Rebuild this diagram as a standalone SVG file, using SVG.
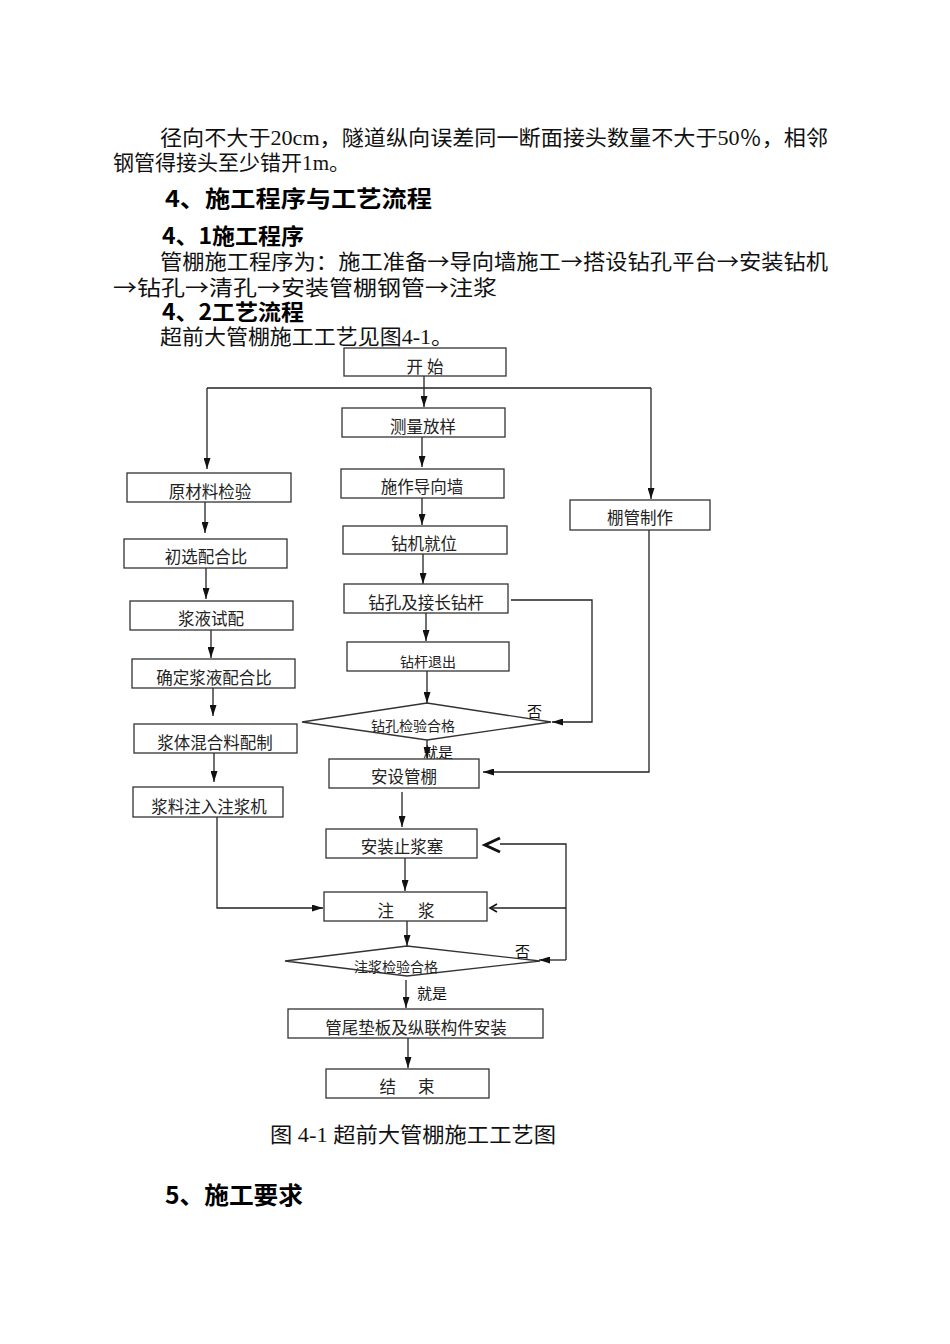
<svg xmlns="http://www.w3.org/2000/svg" width="950" height="1344" viewBox="0 0 950 1344">
<defs>
<style>
.body{font-family:"Liberation Serif","Noto Sans CJK SC",serif;font-size:21px;fill:#111}
.ar{font-family:"Noto Sans CJK SC",sans-serif}
.head{font-family:"Noto Sans CJK SC",sans-serif;font-weight:bold;fill:#000}
.box{fill:#fff;stroke:#333;stroke-width:1.3}
.lbl{font-family:"Noto Sans CJK SC",sans-serif;font-size:16.5px;fill:#222;text-anchor:middle;dominant-baseline:central}
.sm{font-size:14px}
.note{font-family:"Noto Sans CJK SC",sans-serif;font-size:15px;fill:#111}
.ln{fill:none;stroke:#222;stroke-width:1.3}
.arr{marker-end:url(#ah)}
</style>
<marker id="ah" markerUnits="userSpaceOnUse" markerWidth="11" markerHeight="7" refX="11" refY="3.5" orient="auto">
<path d="M0,0 L11,3.5 L0,7 z" fill="#111"/>
</marker>
</defs>
<rect width="950" height="1344" fill="#fff"/>

<g id="text-top">
<text class="body" x="160" y="145" textLength="668" lengthAdjust="spacingAndGlyphs">径向不大于20cm，隧道纵向误差同一断面接头数量不大于50％，相邻</text>
<text class="body" x="113" y="170" textLength="237" lengthAdjust="spacingAndGlyphs">钢管得接头至少错开1m。</text>
<text class="head" x="165" y="207" font-size="23" textLength="267" lengthAdjust="spacingAndGlyphs">4、施工程序与工艺流程</text>
<text class="head" x="162" y="244" font-size="22" textLength="142" lengthAdjust="spacingAndGlyphs">4、1施工程序</text>
<text class="body" x="160" y="269" textLength="668" lengthAdjust="spacingAndGlyphs">管棚施工程序为：施工准备<tspan class="ar">→</tspan>导向墙施工<tspan class="ar">→</tspan>搭设钻孔平台<tspan class="ar">→</tspan>安装钻机</text>
<text class="body" x="113" y="295" textLength="384" lengthAdjust="spacingAndGlyphs"><tspan class="ar">→</tspan>钻孔<tspan class="ar">→</tspan>清孔<tspan class="ar">→</tspan>安装管棚钢管<tspan class="ar">→</tspan>注浆</text>
<text class="head" x="162" y="320" font-size="22" textLength="142" lengthAdjust="spacingAndGlyphs">4、2工艺流程</text>
<text class="body" x="160" y="344" textLength="293" lengthAdjust="spacingAndGlyphs">超前大管棚施工工艺见图4-1。</text>
</g>

<g id="connectors">
<path class="ln" d="M207,388 H651"/>
<path class="ln arr" d="M424,376 V407"/>
<path class="ln arr" d="M207,388 V469"/>
<path class="ln arr" d="M651,388 V499"/>
<path class="ln arr" d="M422,437 V467"/>
<path class="ln arr" d="M422,498 V525"/>
<path class="ln arr" d="M423,554 V584"/>
<path class="ln arr" d="M426,613 V641"/>
<path class="ln arr" d="M427,671 V703"/>
<path class="ln arr" d="M511,600 H592 V722 H552"/>
<path class="ln arr" d="M427,728 V758"/>
<path class="ln arr" d="M649,530 V772 H483"/>
<path class="ln arr" d="M402,792 V827"/>
<path class="ln arr" d="M405,858 V891"/>
<path class="ln arr" d="M407,921 V946"/>
<path class="ln" d="M500,844 H566 V960"/>
<path class="ln arr" d="M566,960 H539"/>
<path class="ln" d="M566,908 H492"/>
<path fill="none" stroke="#111" stroke-width="3" d="M500,838 L485,845 L500,852"/>
<path fill="none" stroke="#111" stroke-width="1.6" d="M497,904 L490,908 L497,912"/>
<path class="ln arr" d="M217,817 V908 H323"/>
<path class="ln arr" d="M406,980 V1008"/>
<path class="ln arr" d="M408,1038 V1068"/>
<path class="ln arr" d="M205,502 V533"/>
<path class="ln arr" d="M206,568 V599"/>
<path class="ln arr" d="M211,630 V658"/>
<path class="ln arr" d="M213,688 V716"/>
<path class="ln arr" d="M214,753 V782"/>
</g>

<g id="n-start"><rect class="box" x="344" y="348" width="162" height="28"/><text class="lbl" x="425" y="366" font-size="13" textLength="37">开 始</text></g>
<g id="n-survey"><rect class="box" x="342" y="408" width="163" height="29"/><text class="lbl" x="423" y="426">测量放样</text></g>
<g id="n-wall"><rect class="box" x="341" y="469" width="163" height="29"/><text class="lbl" x="422" y="486">施作导向墙</text></g>
<g id="n-rig"><rect class="box" x="343" y="526" width="164" height="28"/><text class="lbl" x="424" y="543">钻机就位</text></g>
<g id="n-drill"><rect class="box" x="344" y="584" width="164" height="29"/><text class="lbl" x="426" y="602">钻孔及接长钻杆</text></g>
<g id="n-retract"><rect class="box" x="347" y="642" width="162" height="29"/><text class="lbl sm" x="428" y="661">钻杆退出</text></g>
<g id="n-check1"><polygon class="box" points="302,722 427,703 551,722 427,740"/><text class="lbl sm" x="413" y="725">钻孔检验合格</text><text class="note" x="527" y="717">否</text><text class="note" x="423" y="758">就是</text></g>
<g id="n-install"><rect class="box" x="329" y="759" width="150" height="29"/><text class="lbl" x="404" y="776">安设管棚</text></g>
<g id="n-pipe"><rect class="box" x="570" y="500" width="140" height="30"/><text class="lbl" x="640" y="517">棚管制作</text></g>
<g id="n-plug"><rect class="box" x="326" y="829" width="151" height="29"/><text class="lbl" x="402" y="846">安装止浆塞</text></g>
<g id="n-grout"><rect class="box" x="324" y="892" width="163" height="29"/><text class="lbl" x="406" y="910" textLength="57">注　　浆</text></g>
<g id="n-check2"><polygon class="box" points="285,961 407,946 540,961 407,976"/><text class="lbl sm" x="396" y="966">注浆检验合格</text><text class="note" x="515" y="957">否</text><text class="note" x="417" y="999">就是</text></g>
<g id="n-tail"><rect class="box" x="288" y="1009" width="255" height="29"/><text class="lbl" x="416" y="1027">管尾垫板及纵联构件安装</text></g>
<g id="n-end"><rect class="box" x="326" y="1069" width="163" height="29"/><text class="lbl" x="407" y="1086" textLength="55">结　　束</text></g>

<g id="n-raw"><rect class="box" x="127" y="473" width="164" height="29"/><text class="lbl" x="210" y="491">原材料检验</text></g>
<g id="n-prelim"><rect class="box" x="124" y="539" width="163" height="29"/><text class="lbl" x="206" y="556">初选配合比</text></g>
<g id="n-trial"><rect class="box" x="130" y="601" width="163" height="29"/><text class="lbl" x="211" y="618">浆液试配</text></g>
<g id="n-ratio"><rect class="box" x="132" y="659" width="163" height="29"/><text class="lbl" x="214" y="677">确定浆液配合比</text></g>
<g id="n-mix"><rect class="box" x="134" y="724" width="163" height="29"/><text class="lbl" x="215" y="742">浆体混合料配制</text></g>
<g id="n-feed"><rect class="box" x="133" y="787" width="150" height="30"/><text class="lbl" x="209" y="806">浆料注入注浆机</text></g>

<g id="text-bottom">
<text class="body" x="270" y="1142" font-size="20" textLength="286" lengthAdjust="spacingAndGlyphs">图 4-1 超前大管棚施工工艺图</text>
<text class="head" x="165" y="1204" font-size="24" textLength="138" lengthAdjust="spacingAndGlyphs">5、施工要求</text>
</g>
</svg>
